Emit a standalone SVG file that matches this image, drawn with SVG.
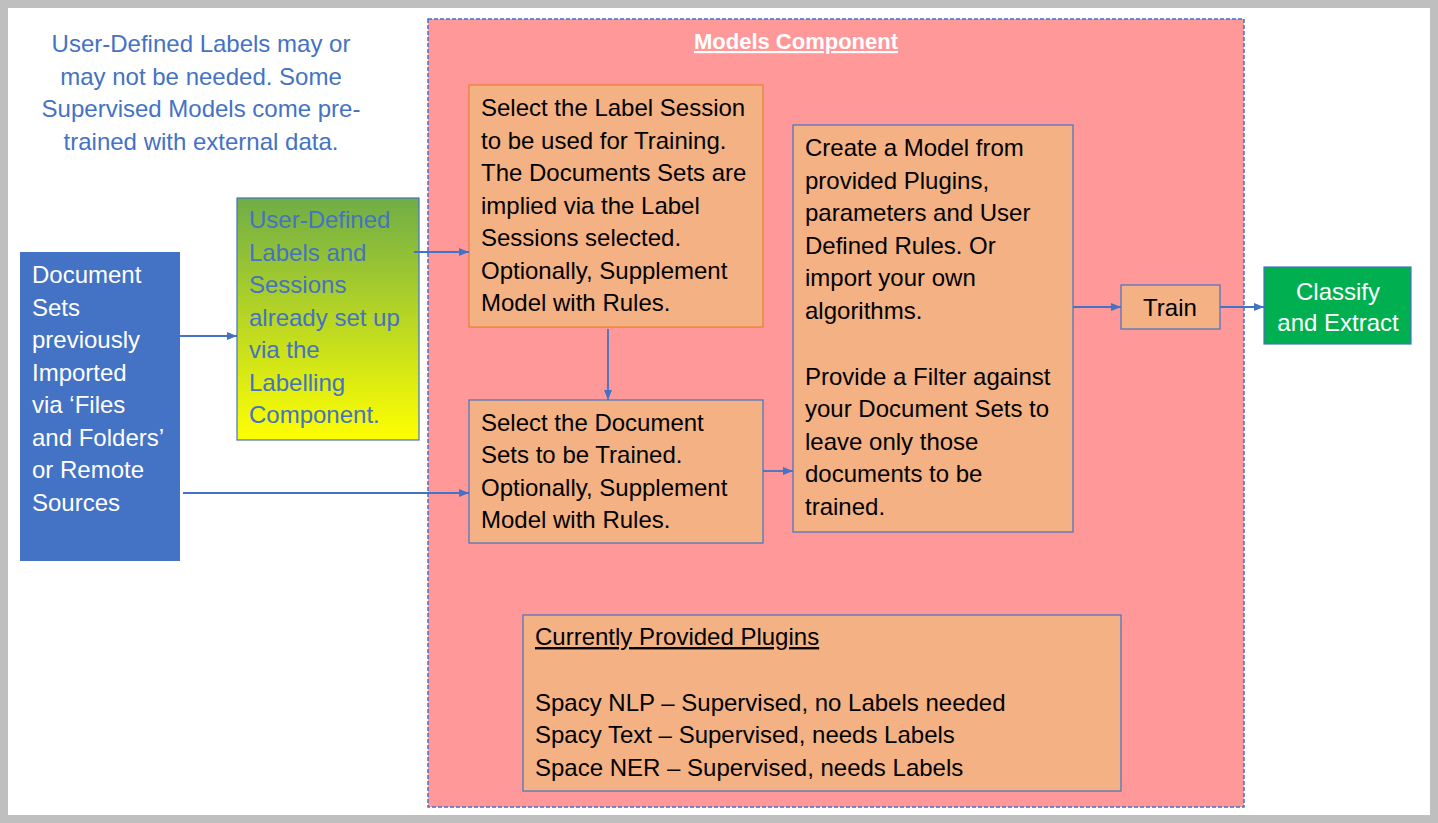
<svg xmlns="http://www.w3.org/2000/svg" width="1438" height="823" viewBox="0 0 1438 823">
<style>
  text { font-family: "Liberation Sans", Arial, sans-serif; font-size: 24px; }
  .blk { fill: #000000; }
  .wht { fill: #ffffff; }
  .blu { fill: #4472c4; }
  .box { fill: #f4b183; stroke: #4472c4; stroke-width: 1.2; }
  .conn { stroke: #4472c4; stroke-width: 1.8; fill: none; marker-end: url(#arr); }
</style>
<defs>
  <linearGradient id="grad" x1="0" y1="0" x2="0" y2="1">
    <stop offset="0" stop-color="#70ad47"/>
    <stop offset="1" stop-color="#ffff00"/>
  </linearGradient>
  <marker id="arr" markerUnits="userSpaceOnUse" markerWidth="10" markerHeight="10" viewBox="0 0 10 10" refX="10" refY="5" orient="auto">
    <path d="M0,1 L10,5 L0,9 z" fill="#4472c4"/>
  </marker>
</defs>
<rect x="0" y="0" width="1438" height="823" fill="#bfbfbf"/>
<rect x="8" y="8" width="1422" height="807" fill="#ffffff"/>

<g id="note">
  <text class="blu" text-anchor="middle" x="201" y="52">User-Defined Labels may or</text>
  <text class="blu" text-anchor="middle" x="201" y="85">may not be needed. Some</text>
  <text class="blu" text-anchor="middle" x="201" y="117">Supervised Models come pre-</text>
  <text class="blu" text-anchor="middle" x="201" y="150">trained with external data.</text>
</g>

<g id="models-component">
  <rect x="428" y="19" width="816" height="788" fill="#ff9999" stroke="#4472c4" stroke-width="1.5" stroke-dasharray="4 2"/>
  <text class="wht" text-anchor="middle" x="796" y="49" style="font-size:22px;font-weight:bold;text-decoration:underline">Models Component</text>
</g>

<g id="document-sets">
  <rect x="20" y="252" width="160" height="309" fill="#4472c4"/>
  <text class="wht" x="32" y="283">Document</text>
  <text class="wht" x="32" y="316">Sets</text>
  <text class="wht" x="32" y="348">previously</text>
  <text class="wht" x="32" y="381">Imported</text>
  <text class="wht" x="32" y="413">via ‘Files</text>
  <text class="wht" x="32" y="446">and Folders’</text>
  <text class="wht" x="32" y="478">or Remote</text>
  <text class="wht" x="32" y="511">Sources</text>
</g>

<g id="labels-sessions">
  <rect x="237" y="198" width="182" height="242" fill="url(#grad)" stroke="#4472c4" stroke-width="1.2"/>
  <text class="blu" x="249" y="228">User-Defined</text>
  <text class="blu" x="249" y="261">Labels and</text>
  <text class="blu" x="249" y="293">Sessions</text>
  <text class="blu" x="249" y="326">already set up</text>
  <text class="blu" x="249" y="358">via the</text>
  <text class="blu" x="249" y="391">Labelling</text>
  <text class="blu" x="249" y="423">Component.</text>
</g>

<g id="select-label-session">
  <rect x="469" y="85" width="294" height="242" fill="#f4b183" stroke="#ed7d31" stroke-width="1.2"/>
  <text class="blk" x="481" y="116">Select the Label Session</text>
  <text class="blk" x="481" y="181" dy="-32.5">to be used for Training.</text>
  <text class="blk" x="481" y="181">The Documents Sets are</text>
  <text class="blk" x="481" y="214">implied via the Label</text>
  <text class="blk" x="481" y="246">Sessions selected.</text>
  <text class="blk" x="481" y="279">Optionally, Supplement</text>
  <text class="blk" x="481" y="311">Model with Rules.</text>
</g>

<g id="select-document-sets">
  <rect class="box" x="469" y="400" width="294" height="143"/>
  <text class="blk" x="481" y="431">Select the Document</text>
  <text class="blk" x="481" y="463">Sets to be Trained.</text>
  <text class="blk" x="481" y="496">Optionally, Supplement</text>
  <text class="blk" x="481" y="528">Model with Rules.</text>
</g>

<g id="create-model">
  <rect class="box" x="793" y="125" width="280" height="407"/>
  <text class="blk" x="805" y="156">Create a Model from</text>
  <text class="blk" x="805" y="189">provided Plugins,</text>
  <text class="blk" x="805" y="221">parameters and User</text>
  <text class="blk" x="805" y="254">Defined Rules. Or</text>
  <text class="blk" x="805" y="286">import your own</text>
  <text class="blk" x="805" y="319">algorithms.</text>
  <text class="blk" x="805" y="385">Provide a Filter against</text>
  <text class="blk" x="805" y="417">your Document Sets to</text>
  <text class="blk" x="805" y="450">leave only those</text>
  <text class="blk" x="805" y="482">documents to be</text>
  <text class="blk" x="805" y="515">trained.</text>
</g>

<g id="train">
  <rect class="box" x="1121" y="285" width="99" height="44"/>
  <text class="blk" text-anchor="middle" x="1170" y="316">Train</text>
</g>

<g id="classify-extract">
  <rect x="1264" y="267" width="147" height="77" fill="#00b050" stroke="#4472c4" stroke-width="1.2"/>
  <text class="wht" text-anchor="middle" x="1338" y="300">Classify</text>
  <text class="wht" text-anchor="middle" x="1338" y="331">and Extract</text>
</g>

<g id="plugins">
  <rect class="box" x="523" y="615" width="598" height="176"/>
  <text class="blk" x="535" y="645" style="text-decoration:underline">Currently Provided Plugins</text>
  <text class="blk" x="535" y="711">Spacy NLP – Supervised, no Labels needed</text>
  <text class="blk" x="535" y="743">Spacy Text – Supervised, needs Labels</text>
  <text class="blk" x="535" y="776">Space NER – Supervised, needs Labels</text>
</g>

<g id="connectors">
  <line class="conn" x1="180" y1="336" x2="237" y2="336"/>
  <line class="conn" x1="414" y1="252" x2="469" y2="252"/>
  <line class="conn" x1="183" y1="493" x2="469" y2="493"/>
  <line class="conn" x1="608" y1="329" x2="608" y2="400"/>
  <line class="conn" x1="763" y1="471" x2="793" y2="471"/>
  <line class="conn" x1="1073" y1="307" x2="1121" y2="307"/>
  <line class="conn" x1="1220" y1="307" x2="1264" y2="307"/>
</g>
</svg>
